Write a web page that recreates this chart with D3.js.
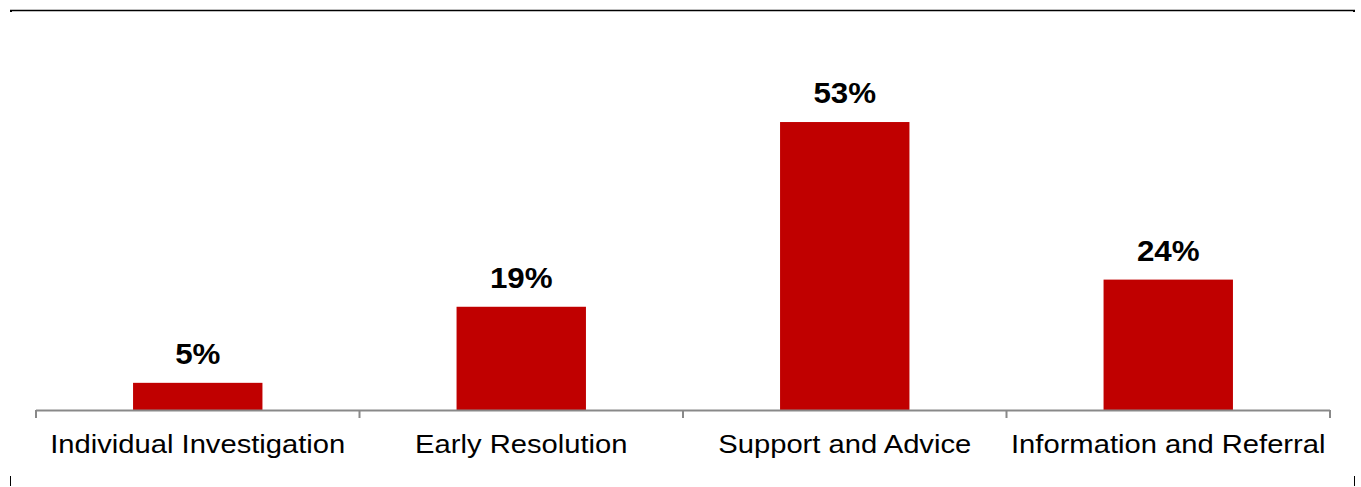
<!DOCTYPE html>
<html>
<head>
<meta charset="utf-8">
<script src="https://cdn.jsdelivr.net/npm/d3@7"></script>
<style>
  body { margin: 0; background: #fff; }
  svg { display: block; font-family: Arial, "Liberation Sans", sans-serif; }
</style>
</head>
<body>
<div class="canvas"></div>
<script>
const categories = ['Individual Investigation', 'Early Resolution', 'Support and Advice', 'Information and Referral']
const values = [5, 19, 53, 24]
const labels = ['5%', '19%', '53%', '24%']

const dims = { width: 1361, height: 487 }
const plot = { left: 36, right: 1330, top: 84, bottom: 410 }

const svg = d3.select('.canvas').append('svg')
  .attr('width', dims.width)
  .attr('height', dims.height)

// frame marks
svg.append('line')
  .attr('x1', 10).attr('x2', 1355)
  .attr('y1', 10.5).attr('y2', 10.5)
  .attr('stroke', '#000').attr('stroke-width', 1.3)
svg.append('rect').attr('x', 10).attr('y', 10).attr('width', 2).attr('height', 2).attr('fill', '#000')
svg.append('rect').attr('x', 1353).attr('y', 10).attr('width', 2).attr('height', 2).attr('fill', '#000')
svg.append('line').attr('x1', 10.5).attr('x2', 10.5).attr('y1', 476).attr('y2', 486).attr('stroke', '#000')
svg.append('line').attr('x1', 1354.5).attr('x2', 1354.5).attr('y1', 476).attr('y2', 486).attr('stroke', '#000')

const x = d3.scaleBand()
  .domain(categories)
  .range([plot.left, plot.right])
  .paddingInner(0.6)
  .paddingOuter(0.3)

const y = d3.scaleLinear()
  .domain([0, 60])
  .range([plot.bottom, plot.top])

const data = categories.map((c, i) => ({ name: c, value: values[i], label: labels[i] }))

const graph = svg.append('g')

graph.selectAll('rect.bar')
  .data(data)
  .enter().append('rect')
  .attr('class', 'bar')
  .attr('x', d => x(d.name))
  .attr('width', x.bandwidth())
  .attr('y', d => y(d.value))
  .attr('height', d => y(0) - y(d.value))
  .attr('fill', '#c00000')

graph.selectAll('text.val')
  .data(data)
  .enter().append('text')
  .attr('class', 'val')
  .attr('transform', d => `translate(${x(d.name) + x.bandwidth() / 2}, ${y(d.value) - 19}) scale(1.08, 1)`)
  .attr('text-anchor', 'middle')
  .attr('font-size', 29)
  .attr('font-weight', 'bold')
  .attr('fill', '#000')
  .text(d => d.label)

// x axis with ticks at band boundaries
const step = (plot.right - plot.left) / categories.length
const boundaries = d3.range(categories.length + 1).map(i => plot.left + i * step)

const axis = svg.append('g')
axis.append('line')
  .attr('x1', plot.left).attr('x2', plot.right)
  .attr('y1', plot.bottom + 0.5).attr('y2', plot.bottom + 0.5)
  .attr('stroke', '#898989').attr('stroke-width', 2)
axis.selectAll('line.tick')
  .data(boundaries)
  .enter().append('line')
  .attr('class', 'tick')
  .attr('x1', d => d).attr('x2', d => d)
  .attr('y1', plot.bottom).attr('y2', plot.bottom + 8)
  .attr('stroke', '#898989').attr('stroke-width', 2)

// category labels are a little wider than plain Arial in the original
axis.selectAll('text.cat')
  .data(categories)
  .enter().append('text')
  .attr('class', 'cat')
  .attr('transform', d => `translate(${x(d) + x.bandwidth() / 2}, 453) scale(1.167, 1)`)
  .attr('text-anchor', 'middle')
  .attr('font-size', 25)
  .attr('fill', '#000')
  .text(d => d)
</script>
</body>
</html>
